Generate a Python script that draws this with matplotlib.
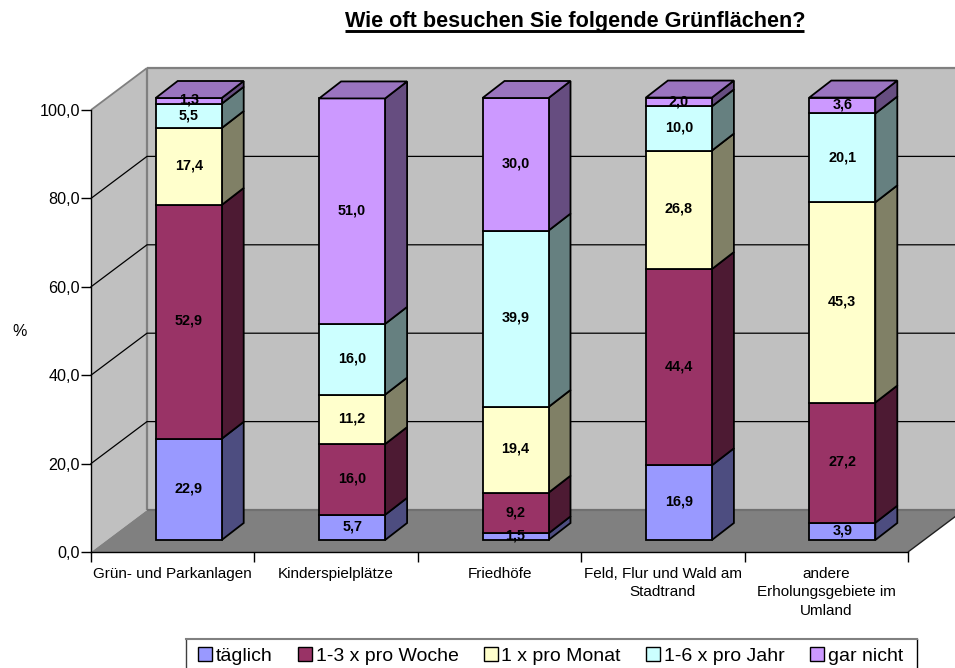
import matplotlib
matplotlib.use("Agg")
import matplotlib.pyplot as plt
from matplotlib.patches import Polygon, Patch
from matplotlib.lines import Line2D

plt.rcParams['font.family'] = ['Liberation Sans', 'DejaVu Sans']

categories = ["Grün- und Parkanlagen", "Kinderspielplätze", "Friedhöfe",
              "Feld, Flur und Wald am\nStadtrand", "andere\nErholungsgebiete im\nUmland"]
series_names = ["täglich", "1-3 x pro Woche", "1 x pro Monat", "1-6 x pro Jahr", "gar nicht"]
taeglich = [22.9, 5.7, 1.5, 16.9, 3.9]
pro_woche = [52.9, 16.0, 9.2, 44.4, 27.2]
pro_monat = [17.4, 11.2, 19.4, 26.8, 45.3]
pro_jahr = [5.5, 16.0, 39.9, 10.0, 20.1]
gar_nicht = [1.3, 51.0, 30.0, 2.0, 3.6]
series = [taeglich, pro_woche, pro_monat, pro_jahr, gar_nicht]
y_ticks = [0, 20, 40, 60, 80, 100]
title = "Wie oft besuchen Sie folgende Grünflächen?"

front = ["#9999FF", "#993366", "#FFFFCC", "#CCFFFF", "#CC99FF"]
side = ["#4D4D80", "#4D1A33", "#808066", "#668080", "#664D80"]
top_col = "#9A74BF"

W, H = 955, 668
L, R, T, B = 91, 908, 110, 552
fig = plt.figure(figsize=(W / 100, H / 100), dpi=100, facecolor="white")
ax = fig.add_axes([L / W, 1 - B / H, (R - L) / W, (B - T) / H])
ax.set_xlim(0, 5)
ax.set_ylim(0, 100)
ax.set_facecolor("none")
for s in ("top", "right"):
    ax.spines[s].set_visible(False)
for s in ("left", "bottom"):
    ax.spines[s].set_linewidth(1.0)
    ax.spines[s].set_zorder(300)
ux = 5 / (R - L)      # data units per pixel
uy = 100 / (B - T)


def pt(x, y, dpx=0, dpy=0):
    return (x + dpx * ux, y + dpy * uy)


WX, WY = 56, 42   # wall depth in pixels


def poly(points, fc, ec="none", lw=0, z=1):
    ax.add_patch(Polygon(points, closed=True, facecolor=fc, edgecolor=ec, linewidth=lw,
                         clip_on=False, zorder=z, joinstyle="miter"))


# Walls and floor
poly([pt(0, 0), pt(0, 100), pt(0, 100, WX, WY), pt(0, 0, WX, WY)], "#C0C0C0", z=1)
poly([pt(0, 0, WX, WY), pt(0, 100, WX, WY), pt(5, 100, WX, WY), pt(5, 0, WX, WY)], "#C0C0C0", z=1)
poly([pt(0, 0), pt(5, 0), pt(5, 0, WX, WY), pt(0, 0, WX, WY)], "#808080", z=2)
gray = "#808080"
for a, b, lw, c in [
    (pt(0, 100), pt(0, 100, WX, WY), 1.3, gray),
    (pt(0, 100, WX, WY), pt(5, 100, WX, WY), 1.6, gray),
    (pt(0, 0, WX, WY), pt(0, 100, WX, WY), 1.6, gray),
    (pt(0, 0, WX, WY), pt(5, 0, WX, WY), 1.6, "#707070"),
    (pt(5, 0), pt(5, 0, WX, WY), 1.0, "#202020"),
]:
    ax.plot([a[0], b[0]], [a[1], b[1]], color=c, lw=lw, clip_on=False, zorder=3, solid_capstyle="butt")
for v in y_ticks[1:-1]:
    p0, p1, p2 = pt(0, v), pt(0, v, WX, WY), pt(5, v, WX, WY)
    ax.plot([p0[0], p1[0], p2[0]], [p0[1], p1[1], p2[1]], color="black", lw=0.9, clip_on=False, zorder=3)

# Bars
BX, BY = 16, 12     # offset of bar front from front plane
DX, DY = 22, 17     # bar depth
BW = 66             # bar front width
z = 10
for i in range(len(categories)):
    x0 = i + 0.5 + (-BW / 2 + BX) * ux
    x1 = x0 + BW * ux
    base = 0.0
    for k, vals in enumerate(series):
        v = vals[i]
        y0 = base + BY * uy
        y1 = y0 + v
        poly([(x1, y0), (x1, y1), pt(x1, y1, DX, DY), pt(x1, y0, DX, DY)], side[k], "black", 1.3, z)
        poly([(x0, y0), (x1, y0), (x1, y1), (x0, y1)], front[k], "black", 1.3, z + 1)
        ax.text((x0 + x1) / 2, (y0 + y1) / 2 + 0.2, f"{v:.1f}".replace(".", ","), ha="center", va="center",
                fontsize=10.4, fontweight="bold", color="black", zorder=250)
        base += v
        z += 2
    y_top = base + BY * uy
    poly([(x0, y_top), (x1, y_top), pt(x1, y_top, DX, DY), pt(x0, y_top, DX, DY)], top_col, "black", 1.3, z)
    z += 1

# Axes ticks and labels
ax.set_yticks(y_ticks)
ax.set_yticklabels([f"{v:.1f}".replace(".", ",") for v in y_ticks], fontsize=11.6)
ax.tick_params(axis="y", length=7, width=1, pad=1, direction="out")
ax.set_xticks(range(6))
ax.set_xticklabels([])
ax.tick_params(axis="x", which="major", length=7, width=1, direction="out")
ax.set_xticks([i + 0.5 for i in range(5)], minor=True)
ax.set_xticklabels(categories, minor=True, fontsize=11.0, linespacing=1.38)
ax.tick_params(axis="x", which="minor", length=0, pad=11)
fig.text(20 / W, 1 - 332 / H, "%", fontsize=11.6, ha="center", va="center")

# Title
fig.text(575 / W, 1 - 27 / H, title, fontsize=15.6, fontweight="bold", ha="center", va="baseline")
fig.add_artist(Line2D([345 / W, 804 / W], [1 - 30.5 / H, 1 - 30.5 / H], color="black", lw=2.1,
                      solid_capstyle="butt"))

# Legend frame (runs off the bottom of the picture)
fl, fr, ft = 185.5 / W, 916.5 / W, 1 - 639 / H
fig.add_artist(Line2D([fl, fl], [0, ft], color="#404040", lw=1.0))
fig.add_artist(Line2D([fr, fr], [0, ft], color="black", lw=1.0))
fig.add_artist(Line2D([fl, fr], [ft, ft], color="#808080", lw=1.5))

# Legend
handles = [Patch(facecolor=c, edgecolor="black", linewidth=1.0) for c in front]
leg = fig.legend(handles, series_names, ncol=5, loc="center left",
                 bbox_to_anchor=(198 / W, 1 - 656 / H), borderaxespad=0, borderpad=0,
                 fontsize=14, frameon=False, handlelength=0.72, handleheight=0.68,
                 handletextpad=0.2, columnspacing=1.29)

fig.savefig("out.png", dpi=100)
